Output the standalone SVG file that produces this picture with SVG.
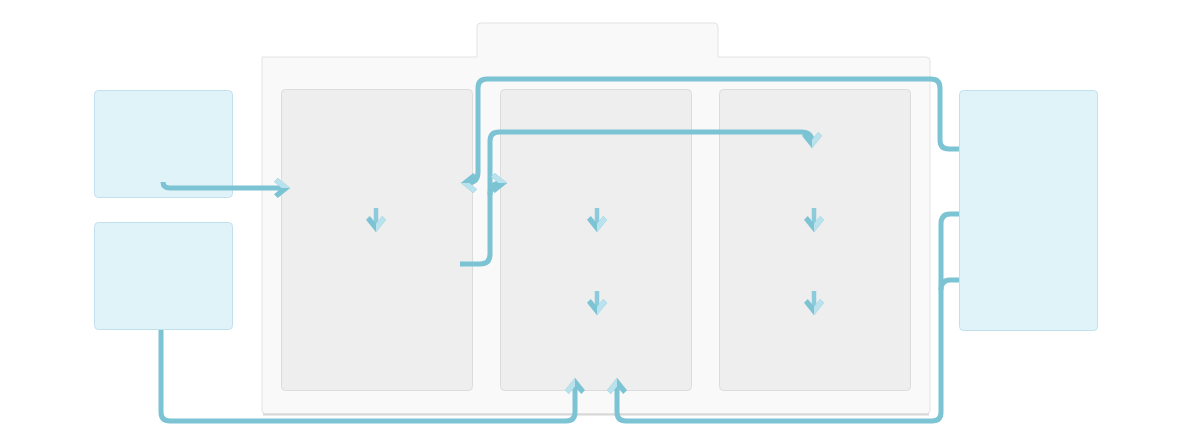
<svg xmlns="http://www.w3.org/2000/svg" width="1200" height="444" viewBox="0 0 1200 444">
<defs>
<style>
.ext{fill:#e0f3f9;stroke:#c0e1eb;stroke-width:1}
.col{fill:#eeeeee;stroke:#dcdcdc;stroke-width:1}
.con{fill:none;stroke:#7cc3d4;stroke-width:5;stroke-linecap:butt;stroke-linejoin:round}
.sm{fill:none;stroke:#8ccbdb;stroke-width:4.5}
</style>
<marker id="ah" viewBox="0 0 16 16" markerUnits="userSpaceOnUse" markerWidth="20" markerHeight="20" refX="9" refY="8" orient="auto">
<path d="M1,3 L4,0 L14,8 L4,16 L1,13 L7,8 Z" fill="#7cc3d4"/>
<path d="M1,3 L4,0 L14,8 L7,8 Z" fill="#b9e2ec"/>
</marker>
</defs>
<rect width="1200" height="444" fill="#ffffff"/>
<g id="container">
<path d="M262,57 L477,57 L477,27 Q477,23 481,23 L714,23 Q718,23 718,27 L718,57 L926,57 Q930,57 930,61 L930,410 Q930,414 926,414 L266,414 Q262,414 262,410 Z" fill="#f9f9f9" stroke="#e3e3e3" stroke-width="1"/>
<line x1="263" y1="414.5" x2="929" y2="414.5" stroke="#d6d6d6" stroke-width="2"/>
</g>
<g id="col1"><rect class="col" x="281.5" y="89.5" width="191" height="301" rx="4"/></g>
<g id="col2"><rect class="col" x="500.5" y="89.5" width="191" height="301" rx="4"/></g>
<g id="col3"><rect class="col" x="719.5" y="89.5" width="191" height="301" rx="4"/></g>
<g id="left1"><rect class="ext" x="94.5" y="90.5" width="138" height="107" rx="4"/></g>
<g id="left2"><rect class="ext" x="94.5" y="222.5" width="138" height="107" rx="4"/></g>
<g id="right1"><rect class="ext" x="959.5" y="90.5" width="138" height="240" rx="4"/></g>
<g id="connectors">
<path class="con" d="M163,182 Q163,188 170,188 L284,188" marker-end="url(#ah)"/>
<path class="con" d="M161,330 L161,412 Q161,421 170,421 L566,421 Q575,421 575,412 L575,384" marker-end="url(#ah)"/>
<path class="con" d="M959,149 L949,149 Q940,149 940,140 L940,88 Q940,79 931,79 L487,79 Q478,79 478,88 L478,172 Q478,183 467,183" marker-end="url(#ah)"/>
<path class="con" d="M460,264 L480,264 Q490,264 490,254 L490,141 Q490,132 499,132 L801,132 Q812,132 812,142" marker-end="url(#ah)"/>
<path class="con" d="M490,195 Q490,183 501,183" marker-end="url(#ah)"/>
<path class="con" d="M959,214 L950,214 Q941,214 941,224 L941,412 Q941,421 932,421 L626,421 Q617,421 617,412 L617,384" marker-end="url(#ah)"/>
<path class="con" d="M959,280 L950,280 Q941,280 941,290"/>
<path class="sm" d="M376,208 L376,226" marker-end="url(#ah)"/>
<path class="sm" d="M597,208 L597,226" marker-end="url(#ah)"/>
<path class="sm" d="M597,291 L597,309" marker-end="url(#ah)"/>
<path class="sm" d="M814,208 L814,226" marker-end="url(#ah)"/>
<path class="sm" d="M814,291 L814,309" marker-end="url(#ah)"/>
</g>
</svg>
